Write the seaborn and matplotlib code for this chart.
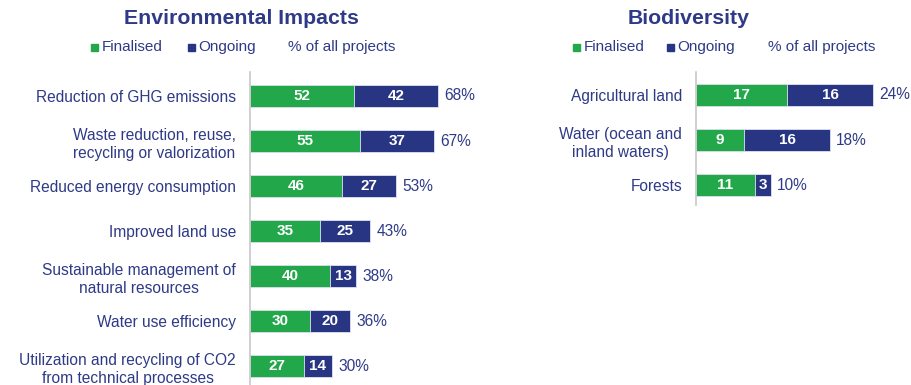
import seaborn as sns
import pandas as pd
from matplotlib import pyplot as plt
from matplotlib.patches import Rectangle

env_cats = ['Reduction of GHG emissions', 'Waste reduction, reuse,\nrecycling or valorization',
            'Reduced energy consumption', 'Improved land use',
            'Sustainable management of\nnatural resources', 'Water use efficiency',
            'Utilization and recycling of CO2\nfrom technical processes']
env_fin = [52, 55, 46, 35, 40, 30, 27]
env_ong = [42, 37, 27, 25, 13, 20, 14]
env_pct = ['68%', '67%', '53%', '43%', '38%', '36%', '30%']

bio_cats = ['Agricultural land', 'Water (ocean and\ninland waters)', 'Forests']
bio_fin = [17, 9, 11]
bio_ong = [16, 16, 3]
bio_pct = ['24%', '18%', '10%']

GREEN = '#22a84a'
NAVY = '#283583'
TXT = '#2e3a87'

sns.set_theme(style='white')
plt.rcParams['font.family'] = ['Liberation Sans', 'DejaVu Sans']

W, H = 912, 385
fig = plt.figure(figsize=(W / 100, H / 100), dpi=100)


def px(l, t, w, h):
    return [l / W, 1 - (t + h) / H, w / W, h / H]


def panel(rect, cats, fin, ong, pct, xmax, ylim):
    ax = fig.add_axes(rect)
    df = pd.DataFrame({'cat': cats, 'fin': fin, 'ong': ong})
    df['tot'] = df['fin'] + df['ong']
    sns.barplot(data=df, x='tot', y='cat', color=NAVY, saturation=1, width=0.49,
                edgecolor='#dfe3f0', linewidth=0.6, ax=ax)
    sns.barplot(data=df, x='fin', y='cat', color=GREEN, saturation=1, width=0.49,
                edgecolor='#dfe3f0', linewidth=0.6, ax=ax)
    for i, (f, o, p) in enumerate(zip(fin, ong, pct)):
        ax.text(f / 2, i, str(f), ha='center', va='center', color='white',
                fontsize=11, fontweight='bold')
        ax.text(f + o / 2, i, str(o), ha='center', va='center', color='white',
                fontsize=11, fontweight='bold')
        ax.annotate(p, (f + o, i), xytext=(4.5, 0), textcoords='offset points',
                    ha='left', va='center', color=TXT, fontsize=11.2)
    ax.set_xlim(0, xmax)
    ax.set_ylim(*ylim)
    ax.set_xlabel('')
    ax.set_ylabel('')
    ax.set_xticks([])
    ax.tick_params(axis='y', length=0, pad=10, labelsize=11.2, labelcolor=TXT)
    for lab in ax.get_yticklabels():
        lab.set_horizontalalignment('right')
        lab.set_multialignment('center')
        lab.set_linespacing(1.25)
    for s in ['top', 'right', 'bottom']:
        ax.spines[s].set_visible(False)
    ax.spines['left'].set_color('#c8c8c8')
    ax.spines['left'].set_linewidth(1.2)
    ax.patch.set_alpha(0)
    return ax


panel(px(250, 72, 200, 313), env_cats, env_fin, env_ong, env_pct, 100, (6.42, -0.533))
panel(px(696, 72, 200, 133), bio_cats, bio_fin, bio_ong, bio_pct, 200 / 5.36, (2.44, -0.51))


def legend(sq, tx):
    y = 1 - 47 / H
    for x, c in zip(sq, [GREEN, NAVY]):
        fig.add_artist(Rectangle((x / W, (H - 51) / H), 7 / W, 7 / H, color=c,
                                 transform=fig.transFigure))
    fig.text(tx[0] / W, y, 'Finalised', color=TXT, fontsize=11, va='center')
    fig.text(tx[1] / W, y, 'Ongoing', color=TXT, fontsize=11, va='center')
    fig.text(tx[2] / W, y, '% of all projects', color=TXT, fontsize=11, va='center')


fig.text(241 / W, 1 - 18 / H, 'Environmental Impacts', ha='center', va='center',
         color=TXT, fontsize=15.3, fontweight='bold')
fig.text(689 / W, 1 - 18 / H, 'Biodiversity', ha='center', va='center',
         color=TXT, fontsize=15.3, fontweight='bold')
legend((91, 188), (102, 198, 288))
legend((573, 667), (584, 677, 768))

fig.savefig('out.png', dpi=100)
